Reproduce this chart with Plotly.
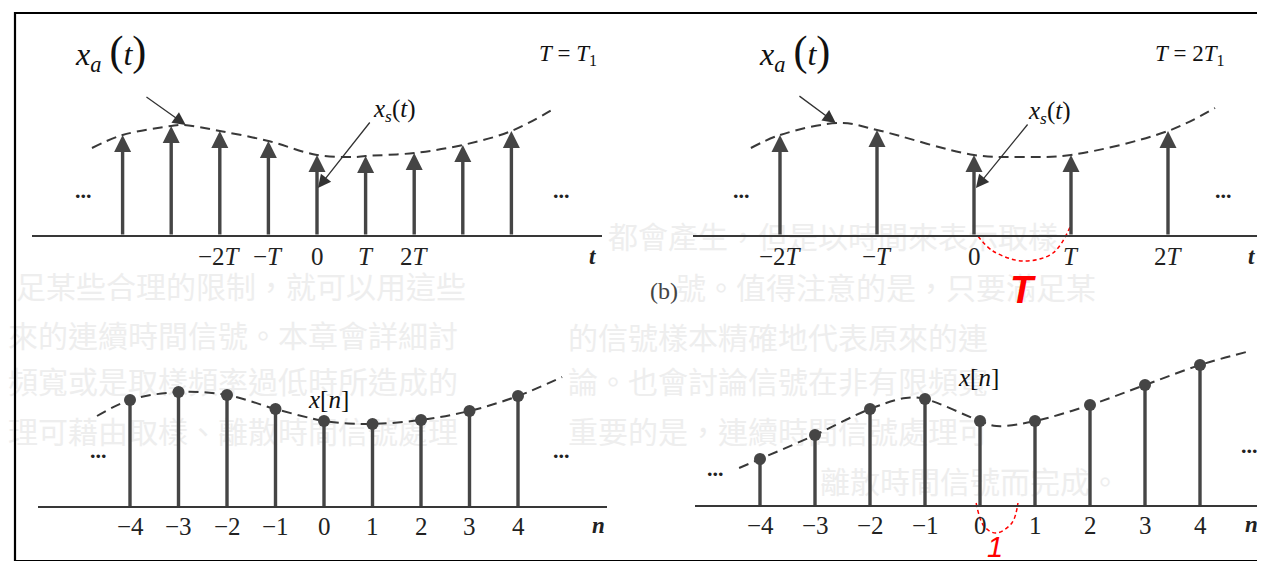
import plotly.graph_objects as go

W, H = 1265, 561

# ---------------- data ----------------
# top-left: T = T1
t_a = [-4, -3, -2, -1, 0, 1, 2, 3, 4]
xs_a = [1.01, 1.10, 1.05, 0.95, 0.81, 0.80, 0.83, 0.91, 1.05]
curve_a_t = [-4.63, -4, -3, -2.74, -2, -1, 0, 0.78, 1, 2, 3, 4, 4.9]
curve_a_v = [0.88, 1.01, 1.10, 1.11, 1.05, 0.95, 0.81, 0.79, 0.80, 0.83, 0.91, 1.05, 1.28]
ticks_a = [-2, -1, 0, 1, 2]

# top-right: T = 2T1 (time in units of T1)
t_b = [-4, -2, 0, 2, 4]
xs_b = [1.01, 1.06, 0.81, 0.81, 1.05]
curve_b_t = [-4.6, -4, -2.76, -2, 0, 1.0, 2, 4, 4.97]
curve_b_v = [0.88, 1.01, 1.13, 1.06, 0.81, 0.79, 0.81, 1.05, 1.28]
ticks_b = [-4, -2, 0, 2, 4]

tick_labels_T = ["−2<i>T</i>", "−<i>T</i>", "0", "<i>T</i>", "2<i>T</i>"]

# bottom-left: x[n]
n_c = [-4, -3, -2, -1, 0, 1, 2, 3, 4]
x_c = [1.07, 1.15, 1.12, 0.98, 0.86, 0.83, 0.87, 0.96, 1.11]
curve_c_n = [-4.68, -4, -3, -2, -1, 0, 0.5, 1, 2, 3, 4, 4.91]
curve_c_v = [0.91, 1.07, 1.15, 1.12, 0.98, 0.86, 0.835, 0.83, 0.87, 0.96, 1.11, 1.30]

# bottom-right: x[n]
n_d = [-4, -3, -2, -1, 0, 1, 2, 3, 4]
x_d = [0.47, 0.71, 0.97, 1.07, 0.85, 0.85, 1.01, 1.21, 1.41]
curve_d_n = [-4.38, -4, -3, -2, -1.35, -1, 0, 0.3, 1, 2, 3, 4, 4.84]
curve_d_v = [0.38, 0.47, 0.71, 0.97, 1.08, 1.07, 0.85, 0.80, 0.85, 1.01, 1.21, 1.41, 1.54]

tick_labels_n = ["−4", "−3", "−2", "−1", "0", "1", "2", "3", "4"]

# red "spacing" marks
arc_b_t = [0.08, 0.39, 1.01, 1.63, 2.0]
arc_b_v = [0.0, -0.15, -0.25, -0.17, 0.11]
arc_d_n = [-0.07, 0.07, 0.29, 0.58, 0.69]
arc_d_v = [0.03, -0.20, -0.27, -0.17, 0.03]

# faint bleed-through text from the scanned page
bg_lines = [
    "足某些合理的限制，就可以用這些",
    "來的連續時間信號。本章會詳細討",
    "頻寬或是取樣頻率過低時所造成的",
    "理可藉由取樣、離散時間信號處理",
    "都會產生，但是以時間來表示取樣",
    "號。值得注意的是，只要滿足某",
    "的信號樣本精確地代表原來的連",
    "論。也會討論信號在非有限頻寬",
    "重要的是，連續時間信號處理可",
    "離散時間信號而完成。",
]
bg_x = [8, 0, 0, 0, 600, 668, 560, 560, 560, 812]
bg_y = [282, 331, 377, 427, 232, 283, 333, 377, 427, 477]

# ---------------- panel geometry ----------------
VS = 100.0
panels = {
    "A": dict(n=2, x0=309, sx=48.6, dom=(24, 594), base=228, ytop=0, ybot=280),
    "B": dict(n=3, x0=966, sx=48.5, dom=(685, 1252), base=228, ytop=0, ybot=280),
    "C": dict(n=4, x0=316, sx=48.5, dom=(30, 599), base=499, ytop=280, ybot=561),
    "D": dict(n=5, x0=972, sx=55.0, dom=(687, 1253), base=498, ytop=280, ybot=561),
}

INK = "#383838"
TXT = "#222222"
SERIF = "Liberation Serif"

fig = go.Figure()

# background faint text (first subplot -> drawn underneath)
fig.add_trace(go.Scatter(
    x=bg_x, y=bg_y, text=bg_lines, mode="text", textposition="middle right",
    textfont=dict(family="Noto Sans CJK TC", size=30, color="#eeeeee"),
    xaxis="x", yaxis="y", hoverinfo="skip", showlegend=False))

layout = dict(
    width=W, height=H, margin=dict(l=0, r=0, t=0, b=0),
    paper_bgcolor="white", plot_bgcolor="rgba(0,0,0,0)", showlegend=False,
    xaxis=dict(domain=[0, 1], range=[0, W], visible=False),
    yaxis=dict(domain=[0, 1], range=[H, 0], visible=False),
)

for key, p in panels.items():
    d0, d1 = p["dom"]
    layout[f"xaxis{p['n']}"] = dict(
        domain=[d0 / W, d1 / W],
        range=[(d0 - p["x0"]) / p["sx"], (d1 - p["x0"]) / p["sx"]],
        anchor="free", position=1 - p["base"] / H,
        showline=True, linecolor=INK, linewidth=2.2,
        showgrid=False, zeroline=False, showticklabels=False, ticks="",
    )
    layout[f"yaxis{p['n']}"] = dict(
        domain=[1 - p["ybot"] / H, 1 - p["ytop"] / H],
        range=[(p["base"] - p["ybot"]) / VS, (p["base"] - p["ytop"]) / VS],
        visible=False,
    )

fig.update_layout(**layout)

dash_line = dict(shape="spline", smoothing=1.0, dash="10px,6px", color=INK, width=2)

# dashed continuous signals
for (cx, cy, key) in [(curve_a_t, curve_a_v, "A"), (curve_b_t, curve_b_v, "B"),
                      (curve_c_n, curve_c_v, "C"), (curve_d_n, curve_d_v, "D")]:
    n = panels[key]["n"]
    fig.add_trace(go.Scatter(x=cx, y=cy, mode="lines", line=dash_line,
                             xaxis=f"x{n}", yaxis=f"y{n}", hoverinfo="skip"))

# discrete sequences: stems + dots
for (nx, vy, key) in [(n_c, x_c, "C"), (n_d, x_d, "D")]:
    p = panels[key]
    n = p["n"]
    fig.add_trace(go.Bar(x=nx, y=vy, width=3.4 / p["sx"], marker=dict(color="#454545", line=dict(width=0)),
                         xaxis=f"x{n}", yaxis=f"y{n}", hoverinfo="skip"))
    fig.add_trace(go.Scatter(x=nx, y=vy, mode="markers",
                             marker=dict(size=12, color="#454545"),
                             xaxis=f"x{n}", yaxis=f"y{n}", hoverinfo="skip"))

# red spacing arcs
for (ax_, ay_, key) in [(arc_b_t, arc_b_v, "B"), (arc_d_n, arc_d_v, "D")]:
    n = panels[key]["n"]
    fig.add_trace(go.Scatter(x=ax_, y=ay_, mode="lines",
                             line=dict(shape="spline", color="#ff0000", width=1.5, dash="4px,3px"),
                             xaxis=f"x{n}", yaxis=f"y{n}", hoverinfo="skip"))

# impulses (arrows) for sampled signals
for (tx, vy, key) in [(t_a, xs_a, "A"), (t_b, xs_b, "B")]:
    n = panels[key]["n"]
    for t, v in zip(tx, vy):
        fig.add_annotation(x=t, y=v, ax=t, ay=0, xref=f"x{n}", yref=f"y{n}",
                           axref=f"x{n}", ayref=f"y{n}", text="", showarrow=True,
                           arrowhead=2, arrowsize=1.0, arrowwidth=3.4, arrowcolor="#454545")

# pointer arrows (x_a(t) and x_s(t))
pointers = [
    ("A", -2.70, 1.11, -3.54, 1.40), ("A", 0.02, 0.48, 1.11, 1.15),
    ("B", -2.85, 1.13, -3.63, 1.41), ("B", 0.04, 0.48, 1.13, 1.13),
]
for key, hx, hy, tx_, ty_ in pointers:
    n = panels[key]["n"]
    fig.add_annotation(x=hx, y=hy, ax=tx_, ay=ty_, xref=f"x{n}", yref=f"y{n}",
                       axref=f"x{n}", ayref=f"y{n}", text="", showarrow=True,
                       arrowhead=2, arrowsize=2.0, arrowwidth=1.3, arrowcolor="#333333")

# tick labels placed under the baselines
for (tv, tt, key, shift) in [(ticks_a, tick_labels_T, "A", -20), (ticks_b, tick_labels_T, "B", -20),
                             (n_c, tick_labels_n, "C", -19), (n_d, tick_labels_n, "D", -19)]:
    p = panels[key]
    n = p["n"]
    for v, lab in zip(tv, tt):
        fig.add_annotation(x=v, y=1 - p["base"] / H, xref=f"x{n}", yref="paper",
                           yshift=shift, text=lab, showarrow=False,
                           xanchor="center", yanchor="middle",
                           font=dict(family=SERIF, size=25, color=TXT))


def txt(px, py, s, size, color=TXT, family=SERIF, xanchor="center"):
    fig.add_annotation(x=px / W, y=1 - py / H, xref="paper", yref="paper", text=s,
                       showarrow=False, xanchor=xanchor, yanchor="middle",
                       font=dict(family=family, size=size, color=color))


xa = ("<i>x</i><sub><i>a</i></sub> <span style='font-size:42px'>(</span>"
      "<i>t</i><span style='font-size:42px'>)</span>")
txt(102, 45, xa, 32, color="#111111")
txt(786, 45, xa, 32, color="#111111")
txt(560, 47, "<i>T</i> = <i>T</i><sub>1</sub>", 23, color="#111111")
txt(1182, 47, "<i>T</i> = 2<i>T</i><sub>1</sub>", 23, color="#111111")
txt(386, 102, "<i>x<sub>s</sub></i>(<i>t</i>)", 25, color="#111111")
txt(1041, 104, "<i>x<sub>s</sub></i>(<i>t</i>)", 25, color="#111111")
txt(320, 391, "<i>x</i>[<i>n</i>]", 25, color="#111111")
txt(970, 369, "<i>x</i>[<i>n</i>]", 25, color="#111111")
txt(584, 248, "<b><i>t</i></b>", 23)
txt(1243, 248, "<b><i>t</i></b>", 23)
txt(590, 517, "<b><i>n</i></b>", 23)
txt(1243, 516, "<b><i>n</i></b>", 23)
for (px, py) in [(75, 182), (553, 182), (733, 182), (1215, 182),
                 (90, 442), (553, 442), (707, 460), (1241, 437)]:
    txt(px, py, "<b>...</b>", 22)
txt(656, 283, "(b)", 24, color="#444444")
txt(1015, 282, "<b><i>T</i></b>", 38, color="#ff0000", family="Liberation Sans")
txt(987, 539, "<i>1</i>", 29, color="#ff0000", family="Liberation Sans")

# frame
fig.add_shape(type="rect", xref="paper", yref="paper",
              x0=7 / W, x1=1258 / W, y0=1 - 553 / H, y1=1 - 5 / H,
              line=dict(color="black", width=2.2))

fig.write_html("out.html")
